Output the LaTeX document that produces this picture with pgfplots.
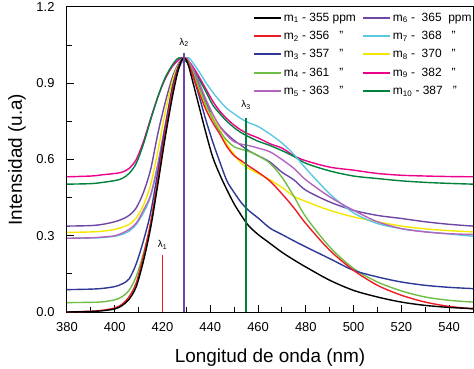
\documentclass[border=0pt]{standalone}
\usepackage{fontspec}
\setmainfont{Liberation Sans}
\usepackage{pgfplots}
\pgfplotsset{compat=1.18}
\usepackage{pgfplotstable}
\definecolor{cMa}{RGB}{0,0,0}
\definecolor{cMb}{RGB}{237,28,36}
\definecolor{cMc}{RGB}{46,56,150}
\definecolor{cMd}{RGB}{110,190,70}
\definecolor{cMe}{RGB}{180,100,190}
\definecolor{cMf}{RGB}{110,70,165}
\definecolor{cMg}{RGB}{90,200,225}
\definecolor{cMh}{RGB}{245,230,0}
\definecolor{cMi}{RGB}{236,0,140}
\definecolor{cMj}{RGB}{0,130,60}

\pgfplotstableread{
x   m1    m2    m3    m4    m5    m6    m7    m8    m9    m10
380 0.000 0.000 0.088 0.037 0.290 0.338 0.290 0.313 0.532 0.503
390 0.002 0.003 0.090 0.038 0.292 0.340 0.291 0.315 0.535 0.505
395 0.005 0.007 0.093 0.040 0.295 0.345 0.293 0.318 0.540 0.510
400 0.012 0.016 0.100 0.048 0.300 0.355 0.298 0.325 0.545 0.517
403 0.025 0.030 0.110 0.060 0.310 0.365 0.305 0.333 0.550 0.525
406 0.050 0.060 0.130 0.085 0.325 0.380 0.318 0.345 0.565 0.545
409 0.100 0.115 0.190 0.140 0.350 0.410 0.345 0.370 0.600 0.585
412 0.200 0.220 0.280 0.230 0.400 0.470 0.390 0.420 0.670 0.660
415 0.330 0.350 0.390 0.345 0.460 0.560 0.455 0.500 0.760 0.755
418 0.500 0.520 0.550 0.510 0.580 0.700 0.575 0.630 0.845 0.845
421 0.680 0.700 0.720 0.690 0.730 0.820 0.720 0.780 0.915 0.920
424 0.840 0.860 0.880 0.860 0.870 0.920 0.860 0.905 0.965 0.970
426 0.930 0.940 0.950 0.940 0.940 0.965 0.935 0.960 0.985 0.995
427 0.965 0.970 0.975 0.970 0.965 0.982 0.960 0.978 0.995 1.000
428 0.990 0.990 0.990 0.990 0.985 0.995 0.980 0.990 1.000 0.998
429 1.000 1.000 1.000 1.000 1.000 1.000 0.995 1.000 1.000 0.990
430 0.990 0.995 0.990 0.995 1.000 0.995 1.000 0.995 0.995 0.985
431 0.965 0.975 0.972 0.980 0.988 0.982 1.000 0.980 0.986 0.975
432 0.930 0.950 0.950 0.960 0.970 0.965 0.990 0.960 0.975 0.965
435 0.820 0.870 0.860 0.890 0.910 0.900 0.950 0.880 0.930 0.920
438 0.710 0.800 0.760 0.820 0.840 0.830 0.905 0.810 0.880 0.870
441 0.610 0.745 0.670 0.760 0.780 0.770 0.865 0.770 0.830 0.815
444 0.540 0.700 0.590 0.710 0.730 0.730 0.830 0.720 0.790 0.780
447 0.480 0.650 0.515 0.675 0.695 0.700 0.800 0.660 0.760 0.750
450 0.425 0.615 0.470 0.650 0.670 0.675 0.780 0.620 0.735 0.725
453 0.380 0.595 0.430 0.640 0.660 0.655 0.760 0.585 0.715 0.705
456 0.340 0.575 0.400 0.632 0.655 0.635 0.745 0.565 0.700 0.690
460 0.305 0.550 0.370 0.615 0.645 0.615 0.730 0.545 0.685 0.672
465 0.270 0.515 0.330 0.585 0.630 0.590 0.700 0.520 0.662 0.655
470 0.235 0.465 0.305 0.530 0.600 0.550 0.665 0.490 0.645 0.635
475 0.205 0.410 0.280 0.455 0.565 0.520 0.620 0.455 0.615 0.612
480 0.177 0.348 0.256 0.374 0.520 0.479 0.565 0.435 0.595 0.585
490 0.125 0.243 0.210 0.256 0.453 0.433 0.465 0.400 0.570 0.555
500 0.085 0.164 0.164 0.171 0.400 0.400 0.390 0.374 0.558 0.535
510 0.059 0.105 0.138 0.118 0.355 0.380 0.348 0.355 0.545 0.525
520 0.039 0.066 0.118 0.083 0.328 0.368 0.328 0.338 0.538 0.516
530 0.026 0.039 0.105 0.059 0.315 0.355 0.316 0.327 0.535 0.510
540 0.018 0.022 0.097 0.046 0.308 0.345 0.307 0.320 0.533 0.506
550 0.013 0.013 0.092 0.039 0.305 0.338 0.298 0.315 0.532 0.503
}\spectra

\begin{document}
\begin{tikzpicture}
\begin{axis}[
  scale only axis, width=406bp, height=305bp,
  xmin=380, xmax=550, ymin=0, ymax=1.2,
  xtick={380,400,...,540}, minor xtick={390,410,...,550},
  ytick={0,0.3,0.6,0.9,1.2}, minor ytick={0.15,0.45,0.75,1.05},
  tick align=inside, xtick pos=left, ytick pos=left,
  major tick length=7bp, minor tick length=5bp,
  tick style={black, line width=1bp},
  axis line style={line width=1bp},
  /pgf/number format/assume math mode=true,
  ticklabel style={font=\fontsize{13}{15}\selectfont},
  yticklabel style={xshift=-9bp, /pgf/number format/.cd, fixed, fixed zerofill, precision=1},
  xticklabel style={yshift=-7bp, /pgf/number format/.cd, 1000 sep={}},
  xlabel={Longitud de onda (nm)}, ylabel={Intensidad (u.a)},
  label style={font=\fontsize{19}{22}\selectfont},
  xlabel style={at={(axis description cs:0.5,-0.150)}, anchor=center},
  ylabel style={at={(axis description cs:-0.123,0.5)}, anchor=center},
  legend columns=2,
  legend cell align=left,
  legend style={draw=none, fill=none, at={(rel axis cs:0.45,0.995)}, anchor=north west,
    font=\fontsize{12}{14}\selectfont, row sep=4.5bp,
    /tikz/every even column/.append style={column sep=4bp}},
  legend image code/.code={\draw[#1] (0bp,0bp) -- (27bp,0bp);},
  every axis plot/.append style={line width=1.4bp, smooth},
]
\addplot[cMi, forget plot] table[x=x,y=m9]{\spectra};
\addplot[cMj, forget plot] table[x=x,y=m10]{\spectra};
\addplot[cMf, forget plot] table[x=x,y=m6]{\spectra};
\addplot[cMh, forget plot] table[x=x,y=m8]{\spectra};
\addplot[cMg, forget plot] table[x=x,y=m7]{\spectra};
\addplot[cMe, forget plot] table[x=x,y=m5]{\spectra};
\addplot[cMd, forget plot] table[x=x,y=m4]{\spectra};
\addplot[cMc, forget plot] table[x=x,y=m3]{\spectra};
\addplot[cMb, forget plot] table[x=x,y=m2]{\spectra};
\addplot[cMa, forget plot] table[x=x,y=m1]{\spectra};

\addplot[cMb, line width=1.6bp, forget plot] coordinates {(420,0) (420,0.223)};
\addplot[cMf, line width=1.6bp, forget plot] coordinates {(429,0) (429,1.02)};
\addplot[cMj, line width=1.6bp, forget plot] coordinates {(455,0) (455,0.762)};
\node[font=\fontsize{10}{11}\selectfont] at (axis cs:420,0.265) {λ\textsubscript{1}};
\node[font=\fontsize{10}{11}\selectfont] at (axis cs:429,1.06) {λ\textsubscript{2}};
\node[font=\fontsize{10}{11}\selectfont] at (axis cs:455,0.815) {λ\textsubscript{3}};

\addlegendimage{cMa, line width=2bp}\addlegendentry{m\textsubscript{1} - 355 ppm}
\addlegendimage{cMf, line width=2bp}\addlegendentry{m\textsubscript{6} -\ \ 365\ \ ppm}
\addlegendimage{cMb, line width=2bp}\addlegendentry{m\textsubscript{2} - 356\hspace{10bp}"}
\addlegendimage{cMg, line width=2bp}\addlegendentry{m\textsubscript{7} -\ \ 368\hspace{10bp}"}
\addlegendimage{cMc, line width=2bp}\addlegendentry{m\textsubscript{3} - 357\hspace{10bp}"}
\addlegendimage{cMh, line width=2bp}\addlegendentry{m\textsubscript{8} -\ \ 370\hspace{10bp}"}
\addlegendimage{cMd, line width=2bp}\addlegendentry{m\textsubscript{4} - 361\hspace{10bp}"}
\addlegendimage{cMi, line width=2bp}\addlegendentry{m\textsubscript{9} -\ \ 382\hspace{10bp}"}
\addlegendimage{cMe, line width=2bp}\addlegendentry{m\textsubscript{5} - 363\hspace{10bp}"}
\addlegendimage{cMj, line width=2bp}\addlegendentry{m\textsubscript{10} - 387\hspace{10bp}"}
\end{axis}
\pgfresetboundingbox
\useasboundingbox ([xshift=-67bp,yshift=-57bp]current axis.south west) rectangle ([xshift=1bp,yshift=7bp]current axis.north east);
\end{tikzpicture}
\end{document}
